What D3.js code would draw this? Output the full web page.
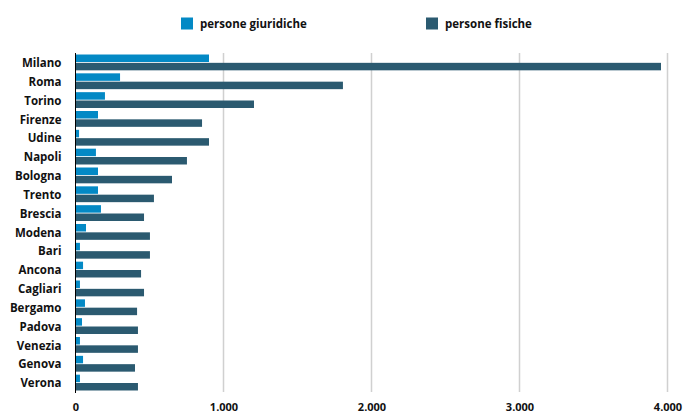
<!DOCTYPE html>
<html><head><meta charset="utf-8">
<script src="https://cdn.jsdelivr.net/npm/d3@7"></script>
<style>body{margin:0;background:#fff}svg{display:block}text{font-family:"Open Sans",Lato,sans-serif;font-weight:700;fill:#111}</style>
</head><body><svg id="c" width="683" height="413"></svg>
<script>
const cities = ["Milano","Roma","Torino","Firenze","Udine","Napoli","Bologna","Trento","Brescia","Modena","Bari","Ancona","Cagliari","Bergamo","Padova","Venezia","Genova","Verona"];
const giuridiche = [902,301,199,152,24,138,152,152,172,71,30,51,30,64,44,30,51,30];
const fisiche = [3956,1807,1206,855,902,753,652,530,463,503,503,443,463,416,422,422,402,422];
const seriesNames = ["persone giuridiche","persone fisiche"];
const colors = ["#0389C5","#2B5A70"];
const ticks = [0,1000,2000,3000,4000];

const svg = d3.select("#c");
const m = {l:75.5, r:15.5, t:53, b:21};
const W = 683, H = 413;
const x = d3.scaleLinear().domain([0,4000]).range([m.l, 667.5]);
const y = d3.scaleBand().domain(cities).range([m.t, H-m.b]).paddingInner(0.16).paddingOuter(0.08);
const ys = d3.scaleBand().domain([0,1]).range([0, y.bandwidth()]).paddingInner(0.1);

// gridlines
svg.append("g").selectAll("line").data(ticks.slice(1)).join("line")
  .attr("x1", d=>x(d)).attr("x2", d=>x(d)).attr("y1", m.t).attr("y2", H-m.b)
  .attr("stroke","#d0d0d0").attr("stroke-width",1.5);

const data = [giuridiche, fisiche];
data.forEach((arr,si)=>{
  svg.append("g").selectAll("rect").data(arr).join("rect")
    .attr("x", x(0)).attr("y", (d,i)=>y(cities[i])+ys(si))
    .attr("width", d=>x(d)-x(0)).attr("height", ys.bandwidth())
    .attr("fill", colors[si]);
});

// zero axis
svg.append("line").attr("x1",x(0)).attr("x2",x(0)).attr("y1",m.t).attr("y2",H-m.b+1)
  .attr("stroke","#000").attr("stroke-width",1);

// y labels
const ya = svg.append("g").attr("transform",`translate(${x(0)},1)`)
  .call(d3.axisLeft(y).tickSize(0).tickPadding(14));
ya.select(".domain").remove();
ya.selectAll("text").style("font-size","11.5px").style("font-family",'"Open Sans",sans-serif').style("font-weight","700").attr("fill","#111");

// x labels
const xa = svg.append("g").attr("transform",`translate(0,${H-m.b})`)
  .call(d3.axisBottom(x).tickValues(ticks).tickSize(0).tickPadding(11)
    .tickFormat(d=>d3.format(",")(d).replace(/,/g,".")));
xa.select(".domain").remove();
xa.selectAll("text").style("font-size","11px").style("font-family",'"Open Sans",sans-serif').style("font-weight","700").attr("fill","#111");

// legend
const lg = svg.append("g");
const lx = [181, 426];
seriesNames.forEach((n,i)=>{
  lg.append("rect").attr("x",lx[i]).attr("y",17.5).attr("width",12).attr("height",12).attr("fill",colors[i]);
  lg.append("text").attr("x",lx[i]+19).attr("y",24).attr("dy","0.35em").style("font-size","11.5px").text(n);
});
</script></body></html>
